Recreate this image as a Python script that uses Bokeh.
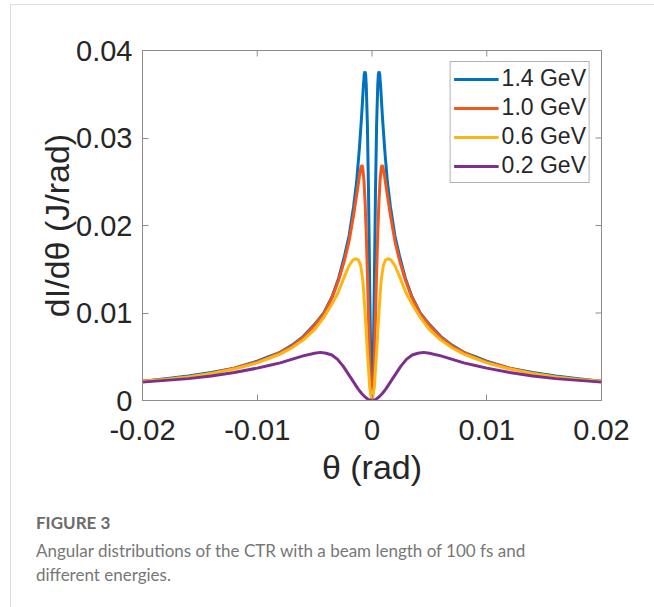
from bokeh.plotting import figure
from bokeh.models import (Range1d, FixedTicker, CustomJSTickFormatter,
                          Legend, LegendItem, Div)
from bokeh.layouts import column, row
from bokeh.embed import file_html
from bokeh.resources import INLINE

# ---------------- data ----------------
theta_blue = [-0.020, -0.018, -0.016, -0.014, -0.012, -0.010, -0.009, -0.008, -0.007, -0.006,
              -0.005, -0.0042, -0.0035, -0.0029, -0.0024, -0.0020, -0.0016, -0.00134, -0.0011,
              -0.0009, -0.00075, -0.00067, -0.00061, -0.00055, -0.0005, -0.0004, -0.0003,
              -0.0002, -0.0001, 0.0,
              0.0001, 0.0002, 0.0003, 0.0004, 0.0005, 0.00055, 0.00061, 0.00067, 0.00075,
              0.0009, 0.0011, 0.00134, 0.0016, 0.0020, 0.0024, 0.0029, 0.0035, 0.0042,
              0.005, 0.006, 0.007, 0.008, 0.009, 0.010, 0.012, 0.014, 0.016, 0.018, 0.020]
val_blue = [0.0022, 0.0025, 0.0028, 0.0032, 0.0037, 0.0045, 0.0050, 0.0055, 0.0063, 0.0073,
            0.0087, 0.0100, 0.0118, 0.0140, 0.0165, 0.0188, 0.0222, 0.0250, 0.0288,
            0.0326, 0.0360, 0.0373, 0.0376, 0.0372, 0.0360, 0.0314, 0.0235,
            0.0130, 0.0038, 0.0,
            0.0038, 0.0130, 0.0235, 0.0314, 0.0360, 0.0372, 0.0376, 0.0373, 0.0360,
            0.0326, 0.0288, 0.0250, 0.0222, 0.0188, 0.0165, 0.0140, 0.0118, 0.0100,
            0.0087, 0.0073, 0.0063, 0.0055, 0.0050, 0.0045, 0.0037, 0.0032, 0.0028, 0.0025, 0.0022]

theta_orange = [-0.020, -0.018, -0.016, -0.014, -0.012, -0.010, -0.009, -0.008, -0.007, -0.006,
                -0.005, -0.0042, -0.0035, -0.0029, -0.0024, -0.0020, -0.0016, -0.0013, -0.0011,
                -0.00095, -0.00087, -0.0008, -0.0007, -0.0006, -0.0005, -0.0004, -0.0003,
                -0.0002, -0.0001, 0.0,
                0.0001, 0.0002, 0.0003, 0.0004, 0.0005, 0.0006, 0.0007, 0.0008, 0.00087,
                0.00095, 0.0011, 0.0013, 0.0016, 0.0020, 0.0024, 0.0029, 0.0035, 0.0042,
                0.005, 0.006, 0.007, 0.008, 0.009, 0.010, 0.012, 0.014, 0.016, 0.018, 0.020]
val_orange = [0.0022, 0.0024, 0.0027, 0.0031, 0.0037, 0.0044, 0.0049, 0.0055, 0.0062, 0.0072,
              0.0086, 0.0099, 0.0117, 0.0138, 0.0160, 0.0182, 0.0212, 0.0238, 0.0256,
              0.0267, 0.0269, 0.0265, 0.0251, 0.0226, 0.0190, 0.0145, 0.0095,
              0.0045, 0.0010, 0.0,
              0.0010, 0.0045, 0.0095, 0.0145, 0.0190, 0.0226, 0.0251, 0.0265, 0.0269,
              0.0267, 0.0256, 0.0238, 0.0212, 0.0182, 0.0160, 0.0138, 0.0117, 0.0099,
              0.0086, 0.0072, 0.0062, 0.0055, 0.0049, 0.0044, 0.0037, 0.0031, 0.0027, 0.0024, 0.0022]

theta_yellow = [-0.020, -0.018, -0.016, -0.014, -0.012, -0.010, -0.009, -0.008, -0.007, -0.006,
                -0.005, -0.0042, -0.0035, -0.0030, -0.0026, -0.0023, -0.0020, -0.0017, -0.00146,
                -0.0012, -0.0010, -0.0008, -0.0006, -0.0004, -0.0002, 0.0,
                0.0002, 0.0004, 0.0006, 0.0008, 0.0010, 0.0012, 0.00146, 0.0017, 0.0020,
                0.0023, 0.0026, 0.0030, 0.0035, 0.0042, 0.005, 0.006, 0.007, 0.008, 0.009,
                0.010, 0.012, 0.014, 0.016, 0.018, 0.020]
val_yellow = [0.0022, 0.0024, 0.0027, 0.0031, 0.0036, 0.0043, 0.0048, 0.0053, 0.0060, 0.0069,
              0.0081, 0.0095, 0.0110, 0.0122, 0.0135, 0.0145, 0.0154, 0.0160, 0.0162,
              0.0161, 0.0155, 0.0138, 0.0100, 0.0055, 0.0015, 0.0,
              0.0015, 0.0055, 0.0100, 0.0138, 0.0155, 0.0161, 0.0162, 0.0160, 0.0154,
              0.0145, 0.0135, 0.0122, 0.0110, 0.0095, 0.0081, 0.0069, 0.0060, 0.0053, 0.0048,
              0.0043, 0.0036, 0.0031, 0.0027, 0.0024, 0.0022]

theta_purple = [-0.020, -0.018, -0.016, -0.014, -0.012, -0.010, -0.009, -0.008, -0.007, -0.006,
                -0.005, -0.0045, -0.0040, -0.0035, -0.0030, -0.0025, -0.0020, -0.0016, -0.0012,
                -0.0009, -0.0006, -0.0003, 0.0,
                0.0003, 0.0006, 0.0009, 0.0012, 0.0016, 0.0020, 0.0025, 0.0030, 0.0035,
                0.0040, 0.0045, 0.005, 0.006, 0.007, 0.008, 0.009, 0.010, 0.012, 0.014,
                0.016, 0.018, 0.020]
val_purple = [0.0021, 0.0023, 0.0025, 0.0028, 0.0032, 0.0037, 0.0040, 0.0043, 0.0047, 0.0051,
              0.0054, 0.0055, 0.0054, 0.0052, 0.0047, 0.0039, 0.0029, 0.0021, 0.0013,
              0.0008, 0.0004, 0.0001, 0.0,
              0.0001, 0.0004, 0.0008, 0.0013, 0.0021, 0.0029, 0.0039, 0.0047, 0.0052,
              0.0054, 0.0055, 0.0054, 0.0051, 0.0047, 0.0043, 0.0040, 0.0037, 0.0032, 0.0028,
              0.0025, 0.0023, 0.0021]

series_labels = ["1.4 GeV", "1.0 GeV", "0.6 GeV", "0.2 GeV"]
x_ticks = [-0.02, -0.01, 0.0, 0.01, 0.02]
y_ticks = [0.0, 0.01, 0.02, 0.03, 0.04]
x_title = "θ (rad)"
y_title = "dI/dθ (J/rad)"
caption_head = "FIGURE 3"
caption_lines = ["Angular distributions of the CTR with a beam length of 100 fs and",
                 "different energies."]

colors = ["#0072BD", "#F4561C", "#FDB515", "#7E2F8E"]
SANS = "Liberation Sans"
AX = "#8c8c8c"

X0, X1, Y0, Y1 = -0.02, 0.02, 0.0, 0.04
# figure origin on the page is (11, 5); frame spans x 142..601, y 50..400 on the page
p = figure(width=643, height=495, output_backend="svg", toolbar_location=None,
           x_range=Range1d(X0, X1), y_range=Range1d(Y0, Y1),
           min_border_left=131, min_border_right=53, min_border_top=45,
           min_border_bottom=100, margin=0)
p.background_fill_color = "white"
p.border_fill_color = "white"
p.grid.visible = False
p.outline_line_color = AX
p.outline_line_width = 1

fmt = CustomJSTickFormatter(code="return tick == 0 ? '0' : tick.toFixed(2);")
for ax in p.xaxis + p.yaxis:
    ax.major_label_text_font = SANS
    ax.major_label_text_font_size = "29px"
    ax.major_label_text_color = "#262626"
    ax.axis_line_color = AX
    ax.major_tick_line_color = AX
    ax.major_tick_in = 6
    ax.major_tick_out = 0
    ax.minor_tick_line_color = None
    ax.formatter = fmt
    ax.axis_label_text_font = SANS
    ax.axis_label_text_font_size = "34px"
    ax.axis_label_text_font_style = "normal"
    ax.axis_label_text_color = "#262626"
p.xaxis.ticker = FixedTicker(ticks=x_ticks)
p.yaxis.ticker = FixedTicker(ticks=y_ticks)
p.xaxis.major_label_standoff = 19
p.yaxis.major_label_standoff = 10
p.xaxis.axis_label = x_title
p.yaxis.axis_label = y_title
p.xaxis.axis_label_standoff = 5
p.yaxis.axis_label_standoff = -3

# inward tick marks on the top and right edges of the box
tick_dx = 6 * (X1 - X0) / 459.0
tick_dy = 6 * (Y1 - Y0) / 350.0
p.segment(x0=x_ticks, y0=[Y1] * len(x_ticks), x1=x_ticks, y1=[Y1 - tick_dy] * len(x_ticks),
          line_color=AX, line_width=1)
p.segment(x0=[X1] * len(y_ticks), y0=y_ticks, x1=[X1 - tick_dx] * len(y_ticks), y1=y_ticks,
          line_color=AX, line_width=1)

rs = []
for th, v, c in zip([theta_blue, theta_orange, theta_yellow, theta_purple],
                    [val_blue, val_orange, val_yellow, val_purple], colors):
    rs.append(p.line(th, v, line_color=c, line_width=3))

legend = Legend(items=[LegendItem(label=l, renderers=[r]) for l, r in zip(series_labels, rs)],
                location="top_right")
legend.label_text_font = SANS
legend.label_text_font_size = "23px"
legend.label_text_color = "#262626"
legend.glyph_width = 45
legend.glyph_height = 26
legend.label_height = 26
legend.spacing = 2
legend.padding = 3
legend.margin = 11
legend.label_standoff = 3
legend.border_line_color = "#666666"
legend.border_line_width = 1
legend.background_fill_alpha = 1
p.add_layout(legend, "center")

cap_html = (
    '<div style="font-family: Lato, sans-serif; padding-left: 25px; padding-top: 12px;">'
    f'<div style="font-size: 17px; font-weight: bold; line-height: 22px; color: #6b6b6b;">{caption_head}</div>'
    f'<div style="font-size: 17px; line-height: 24px; margin-top: 5px; color: #777777;">'
    f'{caption_lines[0]}<br>{caption_lines[1]}</div></div>'
)
cap = Div(text=cap_html, width=643, height=102, margin=0)

line_bg = {"background-color": "#dedede"}
top_line = Div(text="", width=643, height=1, styles=line_bg, margin=0)
left_line = Div(text="", width=1, height=603, styles=line_bg, margin=0)

page = row(left_line, column(top_line, p, cap, margin=0, spacing=0),
           margin=(4, 0, 0, 10), spacing=0)

open("out.html", "w").write(file_html(page, INLINE))
